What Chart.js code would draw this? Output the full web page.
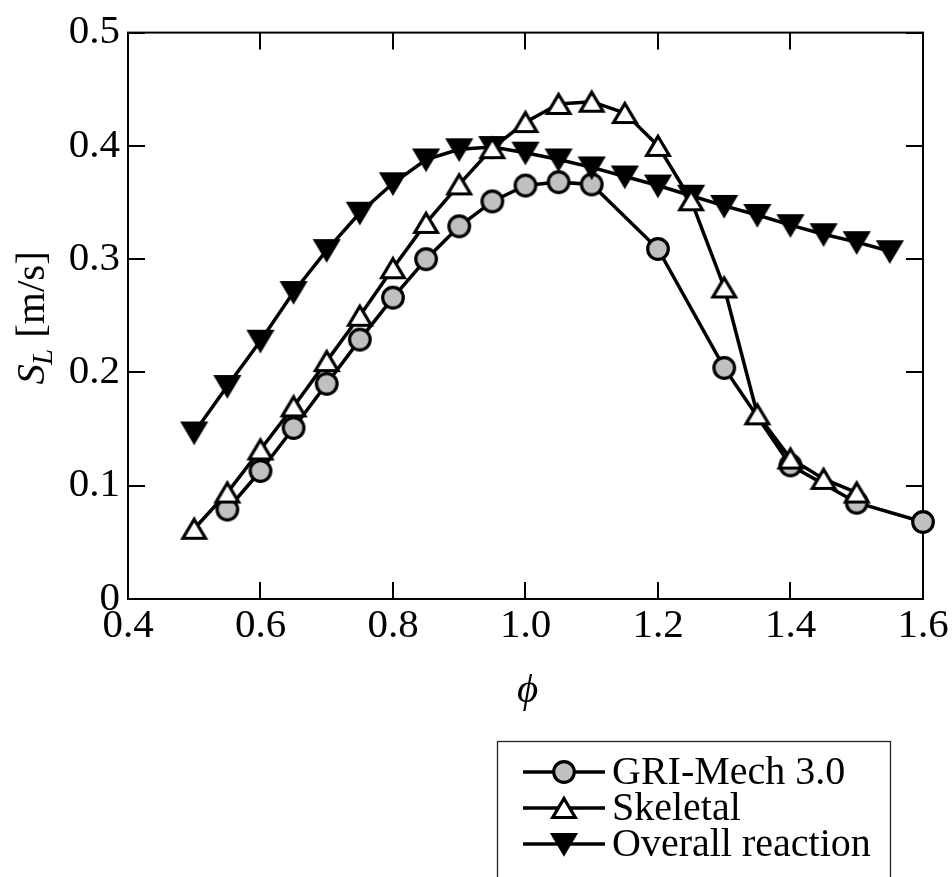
<!DOCTYPE html>
<html>
<head>
<meta charset="utf-8">
<script src="https://cdn.jsdelivr.net/npm/chart.js@4/dist/chart.umd.min.js"></script>
<style>
  html, body { margin: 0; padding: 0; background: #fff; }
  #wrap { width: 952px; height: 877px; }
</style>
</head>
<body>
<div id="wrap"><canvas id="c" width="952" height="877"></canvas></div>
<script>
// ---- data ----
const phiGRI = [0.55, 0.60, 0.65, 0.70, 0.75, 0.80, 0.85, 0.90, 0.95, 1.00, 1.05, 1.10, 1.20, 1.30, 1.40, 1.50, 1.60];
const sGRI   = [0.079, 0.113, 0.151, 0.190, 0.229, 0.266, 0.300, 0.329, 0.351, 0.365, 0.368, 0.366, 0.309, 0.204, 0.118, 0.085, 0.068];

const phiSkel = [0.50, 0.55, 0.60, 0.65, 0.70, 0.75, 0.80, 0.85, 0.90, 0.95, 1.00, 1.05, 1.10, 1.15, 1.20, 1.25, 1.30, 1.35, 1.40, 1.45, 1.50];
const sSkel   = [0.062, 0.094, 0.132, 0.170, 0.210, 0.250, 0.292, 0.332, 0.366, 0.398, 0.421, 0.437, 0.439, 0.429, 0.400, 0.352, 0.275, 0.163, 0.124, 0.106, 0.094];

const phiOverall = [0.50, 0.55, 0.60, 0.65, 0.70, 0.75, 0.80, 0.85, 0.90, 0.95, 1.00, 1.05, 1.10, 1.15, 1.20, 1.25, 1.30, 1.35, 1.40, 1.45, 1.50, 1.55];
const sOverall   = [0.147, 0.188, 0.228, 0.271, 0.308, 0.341, 0.367, 0.388, 0.397, 0.399, 0.394, 0.388, 0.381, 0.373, 0.365, 0.356, 0.347, 0.339, 0.330, 0.322, 0.315, 0.307];

const seriesNames = ['GRI-Mech 3.0', 'Skeletal', 'Overall reaction'];
const xTicks = [0.4, 0.6, 0.8, 1.0, 1.2, 1.4, 1.6];
const yTicks = [0, 0.1, 0.2, 0.3, 0.4, 0.5];
const xTitle = '\u03D5';

const FONT = '"Liberation Serif", "Times New Roman", serif';

// ---- marker images (bbox-centred like the reference) ----
function makeMarker(kind) {
  const c = document.createElement('canvas');
  c.width = 36; c.height = 36;
  const g = c.getContext('2d');
  const cx = 18, cy = 18;
  g.lineWidth = 3.2;
  g.lineJoin = 'miter';
  g.strokeStyle = '#000';
  g.beginPath();
  if (kind === 'circle') {
    g.arc(cx, cy, 10.3, 0, Math.PI * 2);
    g.fillStyle = '#c0c0c0';
  } else if (kind === 'up') {
    g.moveTo(cx, cy - 9.5); g.lineTo(cx + 11.3, cy + 9.5); g.lineTo(cx - 11.3, cy + 9.5); g.closePath();
    g.fillStyle = '#ffffff';
  } else {
    g.moveTo(cx, cy + 9.5); g.lineTo(cx + 11.3, cy - 9.5); g.lineTo(cx - 11.3, cy - 9.5); g.closePath();
    g.fillStyle = '#000000';
  }
  g.fill(); g.stroke();
  return c;
}
const mkCircle = makeMarker('circle');
const mkUp = makeMarker('up');
const mkDown = makeMarker('down');
const markers = [mkCircle, mkUp, mkDown];

function pts(xs, ys) { return xs.map((x, i) => ({ x: x, y: ys[i] })); }

// ---- plugin: frame, inward ticks, axis titles, legend ----
const decor = {
  id: 'decor',
  beforeDatasetsDraw(chart) {
    const { ctx, chartArea: a, scales } = chart;
    const xs = scales.x, ys = scales.y;
    ctx.save();
    ctx.strokeStyle = '#000';
    ctx.lineWidth = 2;
    ctx.strokeRect(a.left, a.top, a.right - a.left, a.bottom - a.top);
    const L = 17;
    ctx.beginPath();
    xTicks.forEach(v => {
      const px = Math.round(xs.getPixelForValue(v));
      ctx.moveTo(px, a.bottom); ctx.lineTo(px, a.bottom - L);
      ctx.moveTo(px, a.top); ctx.lineTo(px, a.top + L);
    });
    yTicks.forEach(v => {
      const py = Math.round(ys.getPixelForValue(v));
      ctx.moveTo(a.left, py); ctx.lineTo(a.left + L, py);
      ctx.moveTo(a.right, py); ctx.lineTo(a.right - L, py);
    });
    ctx.stroke();
    ctx.restore();
  },
  afterDraw(chart) {
    const { ctx, chartArea: a } = chart;
    ctx.save();
    ctx.fillStyle = '#000';
    // x title
    ctx.font = 'italic 41px ' + FONT;
    ctx.textAlign = 'center';
    ctx.textBaseline = 'alphabetic';
    ctx.fillText(xTitle, (a.left + a.right) / 2 + 2, 702);
    // y title: S_L [m/s]
    const cy = (a.top + a.bottom) / 2 + 2;
    ctx.translate(44, cy);
    ctx.rotate(-Math.PI / 2);
    const fS = 'italic 41px ' + FONT, fL = 'italic 29px ' + FONT, fU = '41px ' + FONT;
    ctx.font = fS; const wS = ctx.measureText('S').width;
    ctx.font = fL; const wL = ctx.measureText('L').width;
    ctx.font = fU; const wU = ctx.measureText(' [m/s]').width;
    let x0 = -(wS + wL + wU) / 2;
    ctx.textAlign = 'left';
    ctx.font = fS; ctx.fillText('S', x0, 0); x0 += wS;
    ctx.font = fL; ctx.fillText('L', x0 - 1, 8); x0 += wL;
    ctx.font = fU; ctx.fillText(' [m/s]', x0, 0);
    ctx.setTransform(1, 0, 0, 1, 0, 0);
    // legend
    ctx.strokeStyle = '#222';
    ctx.lineWidth = 1.3;
    ctx.strokeRect(497.5, 741.5, 393, 160);
    const rows = [772, 808, 844];
    ctx.font = '40px ' + FONT;
    ctx.textAlign = 'left';
    ctx.textBaseline = 'alphabetic';
    rows.forEach((ry, i) => {
      ctx.strokeStyle = '#000';
      ctx.lineWidth = 3.5;
      ctx.beginPath(); ctx.moveTo(523, ry); ctx.lineTo(605, ry); ctx.stroke();
      const m = markers[i];
      ctx.drawImage(m, 564 - m.width / 2, ry - m.height / 2);
      ctx.fillText(seriesNames[i], 612, ry + 12);
    });
    ctx.restore();
  }
};

const common = { showLine: true, borderColor: '#000', borderWidth: 3.5, tension: 0, pointRadius: 12, pointHoverRadius: 12, fill: false, clip: false };

new Chart(document.getElementById('c'), {
  type: 'scatter',
  data: {
    datasets: [
      Object.assign({ label: seriesNames[1], data: pts(phiSkel, sSkel), pointStyle: mkUp, order: 1 }, common),
      Object.assign({ label: seriesNames[2], data: pts(phiOverall, sOverall), pointStyle: mkDown, order: 2 }, common),
      Object.assign({ label: seriesNames[0], data: pts(phiGRI, sGRI), pointStyle: mkCircle, order: 3 }, common)
    ]
  },
  options: {
    responsive: false,
    animation: false,
    devicePixelRatio: 1,
    layout: { padding: { left: 0, top: 32, right: 29, bottom: 0 } },
    plugins: { legend: { display: false }, tooltip: { enabled: false } },
    scales: {
      x: {
        type: 'linear', min: 0.4, max: 1.6,
        afterBuildTicks: s => { s.ticks = xTicks.map(v => ({ value: v })); },
        afterFit: s => { s.height = 278; },
        grid: { display: false, drawTicks: false },
        border: { display: false },
        ticks: { color: '#000', padding: 3, font: { family: FONT, size: 41 }, maxRotation: 0, autoSkip: false,
                 callback: v => Number(v).toFixed(1) }
      },
      y: {
        type: 'linear', min: 0, max: 0.5,
        afterBuildTicks: s => { s.ticks = yTicks.map(v => ({ value: v })); },
        afterFit: s => { s.width = 128; },
        grid: { display: false, drawTicks: false },
        border: { display: false },
        ticks: { color: '#000', padding: 8, font: { family: FONT, size: 41 }, autoSkip: false,
                 callback: v => (Math.abs(v) < 1e-9 ? '0' : Number(v).toFixed(1)) }
      }
    }
  },
  plugins: [decor]
});
</script>
</body>
</html>
